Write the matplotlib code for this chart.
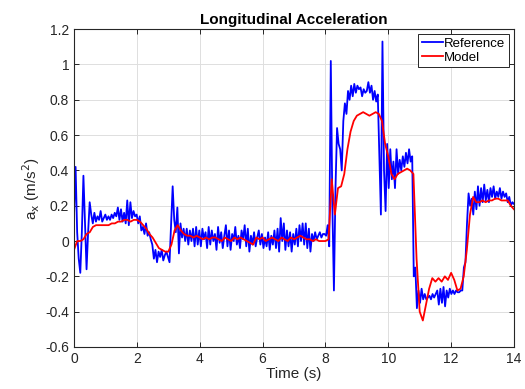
import numpy as np
import matplotlib
matplotlib.use("Agg")
import matplotlib.pyplot as plt

# reference signal, sampled every 0.05 s from 0 to 14 s
ref_ax = [
    0.15, 0.42, 0.05, -0.10, -0.18, 0.05, 0.37, 0.10, -0.16, 0.05,
    0.22, 0.15, 0.10, 0.16, 0.11, 0.14, 0.12, 0.17, 0.11, 0.13,
    0.15, 0.12, 0.14, 0.12, 0.15, 0.13, 0.16, 0.14, 0.19, 0.12,
    0.18, 0.11, 0.16, 0.10, 0.23, 0.09, 0.22, 0.13, 0.17, 0.14,
    0.15, 0.10, 0.14, 0.06, 0.08, 0.04, 0.10, 0.03, 0.05, 0.01,
    -0.02, -0.10, -0.05, -0.12, -0.06, -0.09, -0.05, -0.11, -0.08, -0.06,
    -0.09, -0.12, 0.10, 0.31, 0.12, 0.05, 0.19, -0.07, 0.10, 0.02,
    0.07, 0.00, 0.07, -0.02, 0.06, 0.00, 0.07, -0.03, 0.08, -0.02,
    0.06, -0.03, 0.07, 0.01, 0.05, -0.04, 0.08, -0.02, 0.06, 0.00,
    0.04, -0.05, 0.08, -0.01, 0.05, -0.04, 0.03, 0.09, -0.03, 0.06,
    -0.05, 0.04, 0.00, 0.08, -0.02, 0.03, -0.04, 0.06, 0.01, 0.09,
    -0.03, 0.07, -0.06, 0.03, -0.02, 0.05, -0.03, 0.02, 0.06, -0.02,
    0.04, -0.04, 0.02, -0.03, 0.05, -0.05, 0.03, -0.02, 0.06, -0.04,
    0.07, -0.06, 0.13, 0.00, 0.10, -0.05, 0.06, -0.03, 0.05, -0.06,
    0.04, -0.02, 0.07, -0.03, 0.09, 0.00, 0.10, -0.02, 0.10, -0.04,
    0.07, -0.06, 0.04, 0.00, 0.05, 0.01, 0.03, 0.05, 0.02, 0.04,
    0.04, 0.03, 0.09, -0.03, 1.02, 0.20, -0.28, 0.30, 0.64, 0.55,
    0.52, 0.40, 0.68, 0.78, 0.72, 0.85, 0.80, 0.88, 0.82, 0.89,
    0.84, 0.88, 0.86, 0.87, 0.82, 0.86, 0.84, 0.85, 0.90, 0.84,
    0.88, 0.80, 0.85, 0.79, 0.83, 0.50, 0.15, 1.13, 0.40, 0.17,
    0.55, 0.30, 0.52, 0.35, 0.45, 0.30, 0.52, 0.38, 0.46, 0.40,
    0.48, 0.42, 0.50, 0.44, 0.52, 0.45, 0.48, -0.20, -0.15, -0.38,
    -0.28, -0.35, -0.27, -0.33, -0.30, -0.33, -0.32, -0.31, -0.33, -0.30,
    -0.32, -0.30, -0.28, -0.36, -0.27, -0.35, -0.26, -0.37, -0.28, -0.32,
    -0.27, -0.30, -0.28, -0.30, -0.28, -0.29, -0.29, -0.28, -0.28, -0.15,
    -0.12, 0.10, 0.27, 0.20, 0.24, 0.15, 0.28, 0.18, 0.31, 0.20,
    0.30, 0.22, 0.32, 0.23, 0.29, 0.22, 0.30, 0.25, 0.31, 0.24,
    0.28, 0.25, 0.30, 0.24, 0.28, 0.25, 0.27, 0.22, 0.25, 0.20,
    0.22, 0.21,
]

# model output, sampled every 0.1 s from 0 to 14 s
model_ax = [
    -0.05, 0.00, 0.00, 0.01, 0.04, 0.05, 0.08, 0.09, 0.09, 0.09,
    0.09, 0.09, 0.10, 0.10, 0.11, 0.11, 0.12, 0.12, 0.11, 0.12,
    0.12, 0.11, 0.09, 0.07, 0.04, 0.02, -0.01, -0.04, -0.05, -0.06,
    -0.06, -0.02, 0.06, 0.09, 0.06, 0.04, 0.03, 0.03, 0.02, 0.03,
    0.02, 0.01, 0.02, 0.01, 0.02, 0.02, 0.01, 0.00, 0.02, 0.01,
    0.00, 0.02, 0.01, 0.02, 0.01, 0.00, -0.01, -0.02, 0.02, 0.01,
    0.02, 0.00, 0.01, 0.02, 0.01, 0.00, 0.02, 0.01, 0.00, 0.02,
    0.01, 0.02, 0.03, 0.02, 0.01, 0.01, 0.00, 0.01, 0.00, 0.00,
    0.00, 0.01, 0.35, 0.15, 0.30, 0.31, 0.38, 0.52, 0.62, 0.68,
    0.71, 0.72, 0.73, 0.72, 0.71, 0.72, 0.73, 0.72, 0.68, 0.55,
    0.48, 0.38, 0.35, 0.38, 0.39, 0.40, 0.41, 0.40, 0.38, -0.10,
    -0.40, -0.45, -0.36, -0.27, -0.21, -0.23, -0.21, -0.23, -0.20, -0.22,
    -0.18, -0.22, -0.28, -0.27, -0.20, -0.05, 0.15, 0.25, 0.22, 0.22,
    0.23, 0.22, 0.23, 0.23, 0.24, 0.24, 0.23, 0.23, 0.23, 0.20,
    0.18,
]

x_ticks = [0, 2, 4, 6, 8, 10, 12, 14]
y_ticks = [-0.6, -0.4, -0.2, 0, 0.2, 0.4, 0.6, 0.8, 1, 1.2]
y_tick_labels = ["-0.6", "-0.4", "-0.2", "0", "0.2", "0.4", "0.6", "0.8", "1", "1.2"]

plt.rcParams["font.family"] = ["Liberation Sans", "DejaVu Sans"]
axis_col = "#262626"

t_ref = np.linspace(0, 14, len(ref_ax))
t_mod = np.linspace(0, 14, len(model_ax))

fig = plt.figure(figsize=(5.25, 3.89), dpi=100)
ax = fig.add_axes([0.141, 0.108, 0.838, 0.817])

ax.plot(t_ref, ref_ax, color="#0000ff", lw=1.3, label="Reference")
ax.plot(t_mod, model_ax, color="#ff0000", lw=1.3, label="Model")

ax.set_xlim(0, 14)
ax.set_ylim(-0.6, 1.2)
ax.set_xticks(x_ticks)
ax.set_yticks(y_ticks)
ax.set_yticklabels(y_tick_labels)
ax.grid(True, color="#dedede", lw=0.7)
ax.set_axisbelow(True)
ax.tick_params(direction="in", top=True, right=True, length=3.5,
               colors=axis_col, labelsize=10, width=0.7)
for s in ax.spines.values():
    s.set_color(axis_col)
    s.set_linewidth(0.8)

ax.set_title("Longitudinal Acceleration", fontsize=11, fontweight="bold",
             color="black", pad=4)
ax.set_xlabel("Time (s)", fontsize=11, color=axis_col, labelpad=1)
ax.set_ylabel("a$_{\\mathrm{x}}$ (m/s$^{2}$)", fontsize=11, color=axis_col, labelpad=2)

leg = ax.legend(loc="upper right", fontsize=9.5, handlelength=1.6, handletextpad=0.1,
                borderpad=0.25, labelspacing=0.1, fancybox=False, framealpha=1,
                borderaxespad=0.4)
leg.get_frame().set_edgecolor(axis_col)
leg.get_frame().set_linewidth(0.7)

fig.savefig("out.png", dpi=100)
